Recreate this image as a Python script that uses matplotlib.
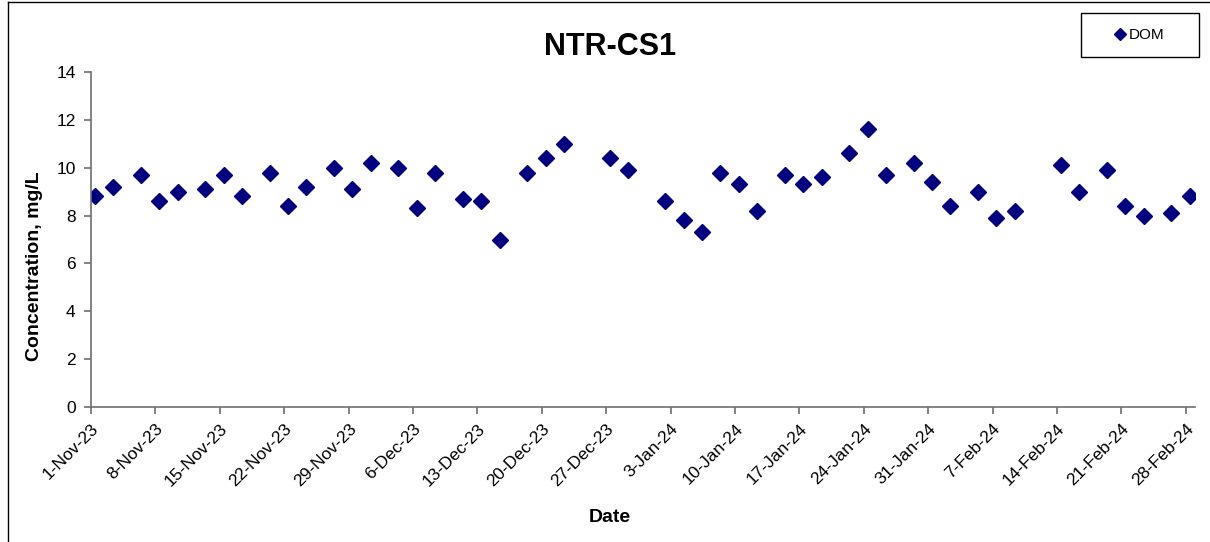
#!/usr/bin/env python3

import matplotlib

matplotlib.use("Agg")
import matplotlib.pyplot as plt
import matplotlib.dates as mdates
import pandas as pd
from matplotlib.lines import Line2D
from matplotlib.patches import Rectangle

plt.rcParams["font.family"] = ["Liberation Sans", "DejaVu Sans"]

# sampling dates (samples taken mid-morning)
sample_dates = [
    "2023-11-01", "2023-11-03", "2023-11-06", "2023-11-08", "2023-11-10",
    "2023-11-13", "2023-11-15", "2023-11-17", "2023-11-20", "2023-11-22",
    "2023-11-24", "2023-11-27", "2023-11-29", "2023-12-01", "2023-12-04",
    "2023-12-06", "2023-12-08", "2023-12-11", "2023-12-13", "2023-12-15",
    "2023-12-18", "2023-12-20", "2023-12-22", "2023-12-27", "2023-12-29",
    "2024-01-02", "2024-01-04", "2024-01-06", "2024-01-08", "2024-01-10",
    "2024-01-12", "2024-01-15", "2024-01-17", "2024-01-19", "2024-01-22",
    "2024-01-24", "2024-01-26", "2024-01-29", "2024-01-31", "2024-02-02",
    "2024-02-05", "2024-02-07", "2024-02-09", "2024-02-14", "2024-02-16",
    "2024-02-19", "2024-02-21", "2024-02-23", "2024-02-26", "2024-02-28",
]
sample_hour = 10

dom = [
    8.8, 9.2, 9.7, 8.6, 9.0,
    9.1, 9.7, 8.8, 9.8, 8.4,
    9.2, 10.0, 9.1, 10.2, 10.0,
    8.3, 9.8, 8.7, 8.6, 7.0,
    9.8, 10.4, 11.0, 10.4, 9.9,
    8.6, 7.8, 7.3, 9.8, 9.3,
    8.2, 9.7, 9.3, 9.6, 10.6,
    11.6, 9.7, 10.2, 9.4, 8.4,
    9.0, 7.9, 8.2, 10.1, 9.0,
    9.9, 8.4, 8.0, 8.1, 8.8,
]

x_start = "2023-11-01"
x_end = "2024-02-29"
y_ticks = [0, 2, 4, 6, 8, 10, 12, 14]

W, H = 1210, 542
axis_color = "#6e6e6e"
marker_color = "#000080"


def day_label(value, pos=None):
    d = mdates.num2date(value)
    return f"{d.day}-{d.strftime('%b-%y')}"


def main() -> None:
    times = pd.to_datetime(sample_dates) + pd.Timedelta(hours=sample_hour)

    fig = plt.figure(figsize=(W / 100, H / 100), dpi=100)
    ax = fig.add_axes([91 / W, 1 - 407 / H, (1195 - 91) / W, (407 - 72) / H])

    ax.plot(times, dom, linestyle="none", marker="D", markersize=8,
            color=marker_color, label="DOM")

    ax.set_xlim(pd.Timestamp(x_start), pd.Timestamp(x_end))
    ax.set_ylim(0, 14)
    ax.set_yticks(y_ticks)

    week_ticks = pd.date_range(x_start, x_end, freq="7D")
    ax.set_xticks(week_ticks)
    ax.xaxis.set_major_formatter(plt.FuncFormatter(day_label))
    for label in ax.get_xticklabels():
        label.set_rotation(45)
        label.set_ha("right")
        label.set_va("top")
        label.set_rotation_mode("anchor")

    for side in ("top", "right"):
        ax.spines[side].set_visible(False)
    for side in ("left", "bottom"):
        ax.spines[side].set_color(axis_color)
        ax.spines[side].set_linewidth(1.2)
    ax.tick_params(axis="both", direction="out", length=5, width=1.2,
                   color=axis_color, labelsize=12.5, labelcolor="black")
    ax.tick_params(axis="x", pad=5)
    ax.tick_params(axis="y", pad=6)

    fig.text(610 / W, 1 - 47 / H, "NTR-CS1", ha="center", va="center",
             fontsize=22, fontweight="bold")
    fig.text(610 / W, 1 - 518 / H, "Date", ha="center", va="center",
             fontsize=14, fontweight="bold")
    fig.text(35 / W, 1 - 266 / H, "Concentration, mg/L", ha="center",
             va="center", rotation=90, fontsize=14, fontweight="bold")

    # outer chart frame (left and top edges visible)
    fig.add_artist(Line2D([7.5 / W, 7.5 / W], [0, 1 - 2 / H],
                          transform=fig.transFigure, color="black", lw=1))
    fig.add_artist(Line2D([7.5 / W, 1], [1 - 2 / H, 1 - 2 / H],
                          transform=fig.transFigure, color="black", lw=1))

    # legend box
    fig.add_artist(Rectangle((1081 / W, 1 - 57 / H), 118 / W, 44 / H,
                             transform=fig.transFigure, fill=False,
                             edgecolor="black", lw=1))
    fig.legend(loc="center", bbox_to_anchor=(1140 / W, 1 - 35 / H),
               frameon=False, fontsize=11, handlelength=0.6,
               handletextpad=0.3, markerscale=0.75)

    fig.savefig("out.png", dpi=100)
    plt.close(fig)


if __name__ == "__main__":
    main()
